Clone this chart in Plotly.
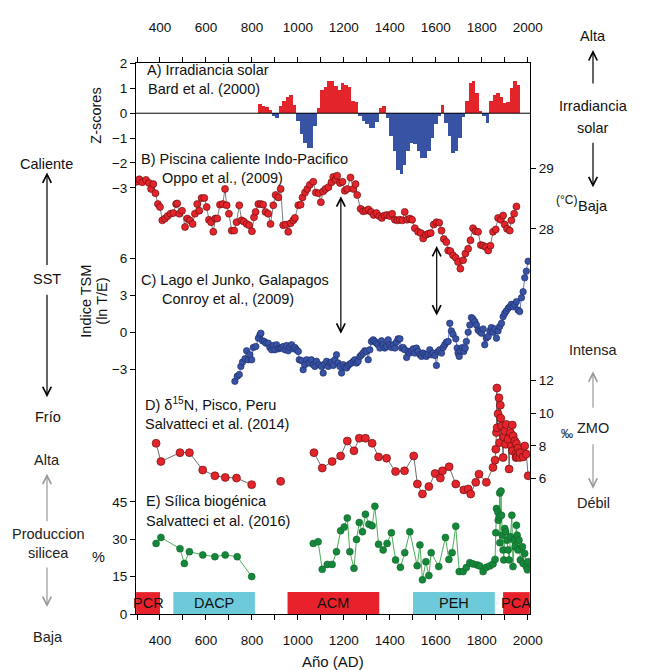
import plotly.graph_objects as go

# ---------------- data ----------------
# A) Solar irradiance (Z-scores), Bard et al. (2000)
A_year = [835, 850, 865, 880, 895, 910, 925, 940, 955, 970, 985, 1000, 1015, 1030, 1045, 1060,
          1075, 1090, 1105, 1120, 1135, 1150, 1165, 1180, 1195, 1210, 1225, 1240, 1255, 1270,
          1285, 1300, 1315, 1330, 1345, 1360, 1375, 1390, 1405, 1420, 1435, 1450, 1465, 1480,
          1495, 1510, 1525, 1540, 1555, 1570, 1585, 1600, 1615, 1630, 1645, 1660, 1675, 1690,
          1705, 1720, 1735, 1750, 1765, 1780, 1795, 1810, 1825, 1840, 1855, 1870, 1885, 1900,
          1915, 1930, 1945, 1960]
A_z = [0.36, 0.30, 0.25, 0.15, -0.10, -0.18, 0.30, 0.50, 0.65, 0.72, 0.35, -0.30, -0.85, -1.20,
       -1.40, -1.40, -0.50, 0.20, 0.95, 1.05, 1.30, 1.30, 1.10, 0.95, 1.20, 1.15, 1.05, 0.50,
       0.45, -0.10, -0.30, -0.45, -0.60, -0.60, -0.35, 0.20, 0.30, -0.20, -0.90, -1.50, -2.30,
       -2.45, -2.10, -1.50, -1.20, -1.25, -1.50, -1.80, -1.80, -1.50, -1.00, -0.45, -0.10, 0.35,
       -0.40, -0.90, -1.60, -1.50, -1.00, -0.15, 0.50, 1.20, 1.30, 0.80, 0.10, -0.10, -0.40,
       0.50, 0.75, 0.80, 0.65, 0.40, 0.45, 1.00, 1.30, 1.15]

# B) Indo-Pacific warm pool SST (deg C), Oppo et al. (2009)
B_year = [299, 310, 323, 339, 352, 361, 371, 380, 391, 400,
          410, 422, 433, 446, 458, 470, 475, 484, 496, 509,
          519, 530, 542, 552, 562, 571, 581, 593, 603, 613,
          622, 632, 641, 649, 661, 673, 683, 690, 700, 712,
          723, 733, 745, 755, 765, 777, 788, 800, 809, 816,
          828, 839, 849, 859, 871, 881, 893, 903, 915, 925,
          936, 948, 958, 968, 980, 987, 1002, 1012, 1020, 1031,
          1041, 1052, 1067, 1078, 1090, 1100, 1110, 1120, 1133, 1146,
          1154, 1164, 1171, 1183, 1194, 1204, 1215, 1229, 1241, 1251,
          1258, 1273, 1284, 1296, 1307, 1319, 1330, 1342, 1354, 1365,
          1377, 1388, 1400, 1410, 1422, 1433, 1444, 1455, 1465, 1475,
          1487, 1497, 1509, 1523, 1535, 1545, 1557, 1568, 1578, 1591,
          1603, 1615, 1625, 1635, 1646, 1654, 1664, 1675, 1687, 1697,
          1707, 1719, 1729, 1741, 1751, 1762, 1773, 1784, 1796, 1806,
          1817, 1828, 1838, 1849, 1861, 1871, 1883, 1893, 1900, 1910,
          1922, 1929, 1941, 1951]
B_sst = [28.78, 28.82, 28.77, 28.81, 28.76, 28.66, 28.74, 28.59, 28.41, 28.36,
         28.14, 28.17, 28.21, 28.25, 28.26, 28.41, 28.42, 28.25, 28.30, 28.03,
         28.17, 28.14, 28.08, 28.25, 28.41, 28.30, 28.51, 28.51, 28.36, 28.15,
         28.11, 27.95, 28.17, 28.17, 28.40, 28.41, 28.66, 28.39, 28.25, 27.97,
         27.97, 28.11, 28.39, 28.14, 28.12, 28.08, 28.06, 27.96, 28.19, 28.28,
         28.41, 28.41, 28.40, 28.28, 28.25, 28.08, 28.39, 28.56, 28.52, 28.66,
         28.06, 28.07, 27.95, 28.09, 28.14, 28.18, 28.39, 28.40, 28.52, 28.60,
         28.66, 28.73, 28.78, 28.60, 28.59, 28.44, 28.62, 28.66, 28.69, 28.77,
         28.86, 28.81, 28.88, 28.76, 28.78, 28.63, 28.66, 28.85, 28.66, 28.74,
         28.56, 28.33, 28.29, 28.30, 28.32, 28.28, 28.23, 28.26, 28.21, 28.18,
         28.22, 28.23, 28.21, 28.25, 28.15, 28.14, 28.15, 28.14, 28.28, 28.15,
         28.17, 28.15, 28.01, 27.95, 27.93, 27.84, 27.90, 27.92, 27.93, 28.07,
         28.11, 28.10, 27.97, 27.83, 27.78, 27.64, 27.63, 27.56, 27.52, 27.45,
         27.34, 27.48, 27.59, 27.67, 27.81, 28.01, 27.96, 27.95, 27.73, 27.72,
         27.70, 27.64, 27.72, 27.95, 27.99, 28.18, 28.15, 28.22, 28.07, 28.00,
         27.97, 28.14, 28.25, 28.37]

# C) El Junko lake, Galapagos, SST index (ln T/E), Conroy et al. (2009)
C_year = [726, 736, 745, 752, 759, 770, 777, 784, 791, 799,
          806, 817, 828, 835, 839, 846, 854, 861, 871, 878,
          886, 893, 900, 907, 915, 922, 929, 936, 944, 951,
          958, 965, 973, 980, 987, 994, 1002, 1006, 1016, 1023,
          1030, 1038, 1049, 1059, 1067, 1074, 1081, 1093, 1103, 1110,
          1117, 1125, 1132, 1139, 1146, 1154, 1161, 1168, 1175, 1183,
          1190, 1197, 1204, 1212, 1219, 1226, 1233, 1241, 1248, 1255,
          1262, 1270, 1277, 1284, 1291, 1299, 1306, 1313, 1320, 1328,
          1335, 1342, 1349, 1357, 1364, 1371, 1378, 1386, 1393, 1400,
          1407, 1415, 1422, 1429, 1436, 1444, 1451, 1458, 1465, 1473,
          1480, 1487, 1494, 1502, 1509, 1516, 1523, 1531, 1538, 1545,
          1552, 1559, 1567, 1574, 1581, 1588, 1596, 1603, 1610, 1617,
          1625, 1632, 1639, 1646, 1654, 1661, 1668, 1675, 1687, 1693,
          1697, 1702, 1707, 1716, 1722, 1728, 1733, 1741, 1748, 1755,
          1762, 1770, 1777, 1784, 1791, 1799, 1806, 1813, 1820, 1828,
          1835, 1842, 1849, 1857, 1864, 1871, 1878, 1886, 1893, 1900,
          1907, 1915, 1922, 1929, 1936, 1944, 1951, 1958, 1965, 1973,
          1980, 1987, 1994, 2002]
C_tsm = [-4.00, -3.59, -3.45, -2.78, -2.43, -2.16, -1.51, -2.24, -1.83, -2.24,
         -1.24, -1.16, -0.48, -0.21, -0.08, -0.70, -0.75, -0.89, -0.89, -1.24,
         -1.43, -1.08, -1.43, -1.02, -1.35, -1.29, -1.29, -1.16, -1.43, -1.08,
         -1.51, -1.24, -1.02, -1.35, -1.24, -1.43, -1.56, -2.24, -2.32, -3.05,
         -2.64, -2.24, -2.51, -2.24, -2.64, -2.78, -2.37, -2.64, -2.78, -3.32,
         -2.59, -2.37, -2.78, -2.51, -2.43, -2.70, -2.24, -1.83, -2.51, -2.78,
         -3.32, -2.64, -2.86, -2.91, -2.70, -2.59, -2.51, -2.37, -2.24, -2.51,
         -2.37, -1.97, -1.83, -1.70, -1.51, -1.56, -2.24, -1.43, -0.75, -0.62,
         -0.75, -0.89, -1.02, -1.29, -0.70, -1.02, -1.29, -1.16, -0.62, -1.02,
         -1.24, -1.02, -1.29, -0.81, -0.54, -0.54, -1.29, -1.24, -1.43, -2.05,
         -1.56, -1.70, -1.51, -1.35, -1.70, -1.29, -1.56, -1.83, -1.97, -1.70,
         -1.83, -1.97, -1.78, -1.43, -1.83, -1.70, -1.89, -2.70, -1.56, -1.43,
         -1.70, -1.24, -1.02, -0.81, -0.75, 0.73, 0.11, -0.16, -0.54, -1.29,
         -1.70, -1.97, -1.51, -1.24, -1.56, -1.29, -0.75, 0.00, 0.59, 1.19,
         1.08, 0.87, 0.59, 0.19, 0.06, -0.08, 0.27, -1.02, -0.48, -0.35,
         0.11, 0.38, 0.00, 0.27, -0.48, 0.11, 0.46, 0.73, 1.27, 1.54,
         1.73, 1.95, 2.08, 2.27, 2.08, 2.27, 2.49, 1.81, 1.68, 2.81,
         3.30, 4.43, 4.97, 5.78]

# D) d15N, Pisco, Peru (permil), Salvatteci et al. (2014); None = gap in record
D_year = [383, 404, 487, 528, 586, 639, 684, 733, 799, None, 925, None,
          1070, 1106, 1149, 1186, 1215, 1244, 1267, 1294, 1323, 1351, 1386, 1425, 1464,
          1504, 1520, 1542, 1570, 1597, 1620, 1629, 1658, 1687, 1722, 1741, 1752, 1774,
          1788, 1820, 1849, 1858, 1861, 1864, 1866, 1867, 1871, 1875, 1878, 1881, 1883,
          1886, 1893, 1896, 1900, 1904, 1907, 1915, 1919, 1925, 1929, 1933, 1934, 1937,
          1944, 1948, 1949, 1951, 1954, 1958, 1965, 1966, 1980, 1987, 1994, 2002]
D_d15n = [8.16, 7.05, 7.59, 7.59, 6.53, 6.18, 6.08, 6.04, 5.64, None, 5.84, None,
          7.59, 6.65, 7.05, 7.39, 8.30, 7.70, 8.47, 8.47, 8.16, 7.33, 7.25, 6.44, 6.48,
          7.39, 5.68, 5.07, 5.52, 6.32, 6.04, 6.48, 6.73, 5.68, 5.32, 5.38, 5.07, 5.78,
          6.28, 5.78, 6.69, 7.13, 7.80, 8.81, 11.53, 9.11, 9.96, 10.93, 8.20, 10.48, 9.68,
          9.21, 7.29, 8.55, 8.91, 8.10, 9.31, 8.41, 6.59, 8.81, 8.00, 9.27, 7.70, 8.61,
          8.30, 7.50, 7.29, 8.14, 7.33, 7.86, 7.29, 7.59, 7.33, 8.00, 7.50, 6.18]

# E) Biogenic silica (%), Salvatteci et al. (2016)
E_year = [383, 404, 487, 506, 528, 586, 639, 684, 736, 799, None,
          1067, 1088, 1106, 1128, 1149, 1168, 1186, 1202, 1215, 1226, 1244, 1255, 1267,
          1281, 1294, 1309, 1323, 1335, 1351, 1371, 1388, 1407, 1425, 1446, 1465, 1487,
          1519, 1531, 1542, 1557, 1570, 1580, 1613, 1642, 1657, 1671, 1687, 1702, 1719,
          1733, 1748, 1762, 1780, 1791, 1806, 1820, 1835, 1849, 1858, 1861, 1864, 1870,
          1872, 1876, 1878, 1879, 1884, 1886, 1889, 1893, 1896, 1900, 1904, 1910, 1915,
          1919, 1925, 1931, 1936, 1941, 1945, 1951, 1954, 1958, 1962, 1968, 1977, 1980,
          1987, 1994, 1999, 2002]
E_bsi = [28.3, 30.7, 26.2, 20.3, 25.0, 23.7, 23.0, 23.7, 23.0, 15.0, None,
         28.3, 29.0, 17.9, 19.9, 19.9, 25.0, 33.4, 34.9, 38.5, 25.0, 18.3, 29.9, 36.7,
         33.0, 40.0, 36.0, 35.4, 43.2, 28.0, 25.7, 28.3, 32.6, 21.7, 18.7, 24.6, 33.0,
         19.4, 27.7, 13.7, 21.0, 15.4, 24.6, 19.0, 30.7, 21.9, 24.6, 35.2, 17.0, 17.0,
         18.6, 20.6, 20.1, 19.7, 19.3, 17.0, 18.7, 19.3, 20.1, 21.9, 32.6, 42.3, 40.9,
         37.6, 38.9, 48.5, 28.6, 49.3, 39.6, 31.6, 25.7, 21.7, 34.3, 33.0, 29.6, 25.7,
         21.7, 31.0, 39.6, 19.0, 29.6, 27.0, 35.6, 31.6, 25.7, 29.6, 21.7, 27.0, 20.3,
         24.3, 19.0, 17.7, 21.0]

# climate periods
period_name = ["PCR", "DACP", "ACM", "PEH", "PCA"]
period_start = [296, 458, 955, 1501, 1893]
period_end = [400, 813, 1354, 1857, 2009]
period_color = ["#E8212B", "#6CCADB", "#E8212B", "#6CCADB", "#E8212B"]

x_tickvals = [300, 400, 500, 600, 700, 800, 900, 1000, 1100, 1200, 1300, 1400, 1500,
              1600, 1700, 1800, 1900, 2000]
x_ticktext = ["", "400", "", "600", "", "800", "", "1000", "", "1200", "", "1400", "",
              "1600", "", "1800", "", "2000"]

# ---------------- layout geometry (screen pixels) ----------------
SW, SH = 652, 670          # browser window
OFF = 8                    # default body margin of the page
L, R, T, B = 136, 530, 60, 614   # plot frame in screen pixels
FONT = "Arial, Liberation Sans, sans-serif"


def xp(px):
    return (px - L) / (R - L)


def yp(py):
    return (B - py) / (B - T)


def yrange(vref, pref, k):
    # value vref sits at pixel pref, k pixels per unit
    return [vref + (pref - B) / k, vref + (pref - T) / k]


red = "#E3242B"
blue = "#3853A4"
green = "#15873A"

fig = go.Figure()

fig.add_trace(go.Bar(
    x=A_year, y=A_z, width=15,
    marker=dict(color=[red if v > 0 else blue for v in A_z], line=dict(width=0)),
    xaxis="x", yaxis="y", showlegend=False))

fig.add_trace(go.Scatter(
    x=B_year, y=B_sst, mode="lines+markers", yaxis="y2",
    line=dict(color="#6e6e6e", width=0.9),
    marker=dict(size=7, color=red, line=dict(color="#5a0a0a", width=0.6)),
    showlegend=False))

fig.add_trace(go.Scatter(
    x=C_year, y=C_tsm, mode="lines+markers", yaxis="y3",
    line=dict(color="#5268c0", width=0.9),
    marker=dict(size=6.5, color=blue, line=dict(color="#1b2a66", width=0.6)),
    showlegend=False))

fig.add_trace(go.Scatter(
    x=D_year, y=D_d15n, mode="lines+markers", yaxis="y4", connectgaps=False,
    line=dict(color="#5e5e5e", width=0.9),
    marker=dict(size=8, color=red, line=dict(color="#5a0a0a", width=0.6)),
    showlegend=False))

fig.add_trace(go.Scatter(
    x=E_year, y=E_bsi, mode="lines+markers", yaxis="y5", connectgaps=False,
    line=dict(color="#4cae58", width=1),
    marker=dict(size=7, color=green, line=dict(color="#0c5a25", width=0.5)),
    showlegend=False))

# dummy trace for top axis
fig.add_trace(go.Scatter(x=[1000], y=[None], xaxis="x2", yaxis="y", showlegend=False))

shapes = []
# zero line of panel A
shapes.append(dict(type="line", xref="paper", yref="y", x0=0, x1=1, y0=0, y1=0,
                   line=dict(color="black", width=1)))
for s, e, c in zip(period_start, period_end, period_color):
    shapes.append(dict(type="rect", xref="x", yref="paper", x0=s, x1=e,
                       y0=yp(B), y1=yp(592), fillcolor=c, line=dict(width=0), layer="below"))

ann = []


def txt(s, px, py, size=14.5, xanchor="center", color="#111", **kw):
    ann.append(dict(text=s, x=xp(px), y=yp(py), xref="paper", yref="paper",
                    showarrow=False, xanchor=xanchor, yanchor="middle",
                    font=dict(size=size, color=color, family=FONT), **kw))


def arrow(px, py_head, py_tail, color="black", both=False, xref="paper", xval=None):
    d = dict(text="", x=xp(px) if xval is None else xval, y=yp(py_head),
             xref=xref, yref="paper", ax=0, ay=py_tail - py_head,
             showarrow=True, arrowhead=5, arrowsize=1.4, arrowwidth=1.2,
             arrowcolor=color, standoff=0, startstandoff=0)
    if both:
        d["arrowside"] = "end+start"
        d["startarrowhead"] = 5
        d["startarrowsize"] = 1.4
    ann.append(d)


# panel texts
txt("A) Irradiancia solar", 145, 67, xanchor="left")
txt("Bard et al. (2000)", 146, 86, xanchor="left")
txt("B) Piscina caliente Indo-Pacifico", 139, 157, xanchor="left")
txt("Oppo et al., (2009)", 160, 176, xanchor="left")
txt("C) Lago el Junko, Galapagos", 139, 278, xanchor="left")
txt("Conroy et al., (2009)", 160, 297, xanchor="left")
txt("D) δ<sup>15</sup>N, Pisco, Peru", 143, 403, xanchor="left")
txt("Salvatteci et al. (2014)", 143, 423, xanchor="left")
txt("E) Sílica biogénica", 144, 500, xanchor="left")
txt("Salvatteci et al. (2016)", 144, 520, xanchor="left")

# period labels
for n, s, e in zip(period_name, period_start, period_end):
    ann.append(dict(text=n, x=(s + e) / 2, y=yp(603), xref="x", yref="paper",
                    showarrow=False, xanchor="center", yanchor="middle",
                    font=dict(size=14.5, color="#111", family=FONT)))

# axis titles
txt("Z-scores", 96, 113, textangle=-90)
txt("Indice TSM", 86, 300, textangle=-90)
txt("(ln T/E)", 102, 300, textangle=-90)
txt("%", 98, 557)
txt("(°C)", 566, 198, size=12)
txt("‰", 567, 433, size=12)
txt("Año (AD)", 333, 662, size=15)

# left side labels
txt("Caliente", 46, 162)
txt("SST", 47, 277)
txt("Frío", 48, 416)
arrow(47, 170, 264)
arrow(47, 396, 292)
txt("Alta", 47, 459, color="#222")
txt("Produccion", 48, 534, color="#222")
txt("silicea", 48, 553, color="#222")
txt("Baja", 48, 637, color="#222")
arrow(47, 473, 522, color="#999999")
arrow(47, 607, 566, color="#999999")

# right side labels
RX = 593
txt("Alta", RX, 33)
txt("Irradiancia", RX, 103)
txt("solar", RX, 125)
txt("Baja", RX, 204)
arrow(RX, 47, 82)
arrow(RX, 185, 139)
txt("Intensa", RX, 349, color="#222")
txt("ZMO", RX, 427, color="#222")
txt("Débil", RX, 502, color="#222")
arrow(RX, 370, 408, color="#999999")
arrow(RX, 488, 442, color="#999999")

# arrows linking the records
arrow(None, 194, 333, both=True, xref="x", xval=1187)
arrow(None, 244, 315, both=True, xref="x", xval=1604)

axis_common = dict(showgrid=False, zeroline=False, ticks="outside", ticklen=5,
                   tickcolor="black", tickwidth=1,
                   tickfont=dict(size=13.5, color="#111", family=FONT))

# the page body has an 8 px margin, so the figure is shifted back by that amount
fig.update_layout(
    width=SW - OFF, height=SH - OFF,
    margin=dict(l=L - OFF, r=SW - R, t=T - OFF, b=SH - B, pad=0),
    paper_bgcolor="white", plot_bgcolor="white",
    font=dict(family=FONT, color="#111"),
    showlegend=False, bargap=0,
    shapes=shapes, annotations=ann,
    xaxis=dict(range=[295.6, 2010], tickvals=x_tickvals, ticktext=x_ticktext,
               showline=True, mirror=True, linecolor="black", linewidth=1,
               ticklabelstandoff=9, **axis_common),
    xaxis2=dict(range=[295.6, 2010], tickvals=x_tickvals, ticktext=x_ticktext,
                overlaying="x", side="top", anchor="y", showline=False,
                ticklabelstandoff=20, **axis_common),
    yaxis=dict(range=yrange(0, 110.5, 25), tickvals=[-3, -2, -1, 0, 1, 2],
               showline=True, mirror=True, linecolor="black", linewidth=1, **axis_common),
    yaxis2=dict(range=yrange(29, 166, 60.7), tickvals=[28, 29], overlaying="y",
                side="right", anchor="x", showline=False, **axis_common),
    yaxis3=dict(range=yrange(0, 330.7, 12.35), tickvals=[-3, 0, 3, 6], overlaying="y",
                side="left", anchor="x", showline=False, **axis_common),
    yaxis4=dict(range=yrange(12, 379, 16.5), tickvals=[6, 8, 10, 12], overlaying="y",
                side="right", anchor="x", showline=False, **axis_common),
    yaxis5=dict(range=yrange(0, 614, 2.507), tickvals=[0, 15, 30, 45], overlaying="y",
                side="left", anchor="x", showline=False, **axis_common),
)

fig.write_html("out.html")
